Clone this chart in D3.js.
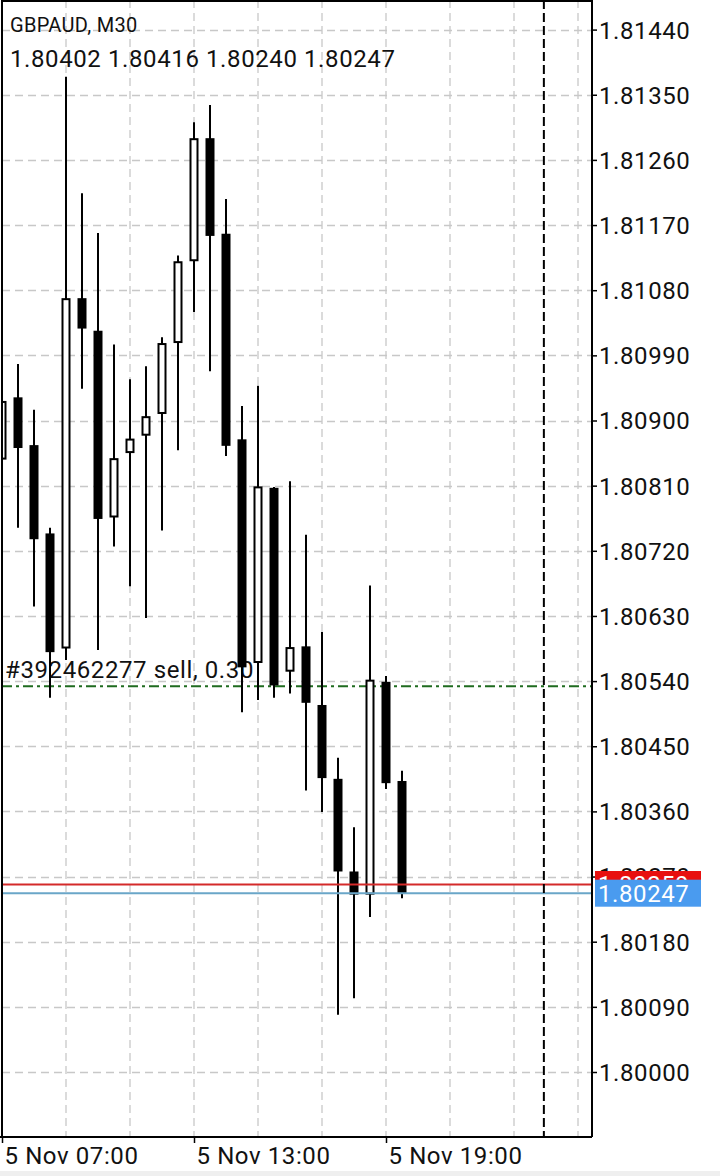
<!DOCTYPE html>
<html><head><meta charset="utf-8">
<script src="https://cdn.jsdelivr.net/npm/d3@7"></script>
<style>html,body{margin:0;padding:0;background:#fff;} svg{display:block;font-family:Roboto, "Noto Sans", sans-serif;}</style>
</head><body><svg id="c" width="720" height="1176"></svg>
<script>
const symbolLabel = "GBPAUD, M30";
const day = "2024-11-05";
const times = ["07:00","07:30","08:00","08:30","09:00","09:30","10:00","10:30","11:00","11:30",
  "12:00","12:30","13:00","13:30","14:00","14:30","15:00","15:30","16:00","16:30",
  "17:00","17:30","18:00","18:30","19:00","19:30"];
const opens  = [1.80846,1.80932,1.80866,1.80744,1.80585,1.81069,1.81024,1.80766,1.80855,1.80879,
  1.80909,1.81007,1.81120,1.81290,1.81158,1.80874,1.80565,1.80807,1.80553,1.80588,
  1.80507,1.80405,1.80277,1.80245,1.80539,1.80402];
const highs  = [1.80988,1.80978,1.80915,1.80752,1.81375,1.81214,1.81159,1.81005,1.80957,1.80975,
  1.81015,1.81128,1.81312,1.81336,1.81206,1.80920,1.80948,1.80808,1.80816,1.80742,
  1.80608,1.80434,1.80338,1.80672,1.80547,1.80416];
const lows   = [1.80812,1.80752,1.80643,1.80517,1.80569,1.80944,1.80583,1.80726,1.80671,1.80627,
  1.80748,1.80859,1.81050,1.80968,1.80851,1.80497,1.80514,1.80517,1.80523,1.80389,
  1.80359,1.80079,1.80102,1.80214,1.80391,1.80240];
const closes = [1.80927,1.80862,1.80736,1.80580,1.81069,1.81027,1.80764,1.80848,1.80875,1.80906,
  1.81007,1.81120,1.81290,1.81155,1.80865,1.80559,1.80809,1.80534,1.80587,1.80510,
  1.80406,1.80277,1.80245,1.80542,1.80399,1.80247];
const yTickValues = [1.80000,1.80090,1.80180,1.80270,1.80360,1.80450,1.80540,1.80630,1.80720,
  1.80810,1.80900,1.80990,1.81080,1.81170,1.81260,1.81350,1.81440];
const xTickTimes = ["2024-11-05 07:00","2024-11-05 13:00","2024-11-05 19:00"];
const domainTimes = ["2024-11-05 07:00","2024-11-06 01:30"];
const separatorTime = "2024-11-05 23:56";
const bidPrice = 1.80247;
const askPrice = 1.80259;
const orderPrice = 1.80533;
const orderLabel = "#392462277 sell, 0.30";

const parse = d3.utcParse("%Y-%m-%d %H:%M");
const fmtX = d3.utcFormat("%-d %b %H:%M");
const fmtP = d3.format(".5f");

const svg = d3.select("#c");
const L = 2, R = 592, T = 0, B = 1137;
const LS = "0.6px";

const x = d3.scaleUtc().domain(domainTimes.map(parse)).range([2, 594]);
const y = d3.scaleLinear().domain([1.80000, 1.81440]).range([1072, 29.6]);

const data = times.map((t,i)=>({t:parse(day+" "+t), o:opens[i], h:highs[i], l:lows[i], c:closes[i]}));

svg.append("rect").attr("width",720).attr("height",1176).attr("fill","#fff");
svg.append("rect").attr("x",0).attr("y",1171).attr("width",720).attr("height",5).attr("fill","#efefef");

svg.append("defs").append("clipPath").attr("id","plot").append("rect")
  .attr("x",L).attr("y",T).attr("width",R-L).attr("height",B-T);

// grid
const grid = svg.append("g").attr("clip-path","url(#plot)");
grid.selectAll(".hg").data(yTickValues).join("line")
  .attr("x1",L).attr("x2",R).attr("y1",d=>Math.round(y(d))+0.5).attr("y2",d=>Math.round(y(d))+0.5)
  .attr("stroke","#c8c8c8").attr("stroke-width",1.3).attr("stroke-dasharray","8,5");
const vTimes = d3.utcHour.range(parse(domainTimes[0]), parse(domainTimes[1]), 2);
grid.selectAll(".vg").data(vTimes).join("line")
  .attr("x1",d=>x(d)).attr("x2",d=>x(d)).attr("y1",T).attr("y2",B)
  .attr("stroke","#c8c8c8").attr("stroke-width",1.3).attr("stroke-dasharray","8,5");

// order line
svg.append("line").attr("x1",L).attr("x2",R).attr("y1",y(orderPrice)).attr("y2",y(orderPrice))
  .attr("stroke","#1f6b1f").attr("stroke-width",2).attr("stroke-dasharray","10,4,3,4");
svg.append("text").attr("x",5).attr("y",y(orderPrice)-8).attr("font-size",24).attr("letter-spacing",LS).attr("fill","#111")
  .text(orderLabel);

// candles
const cg = svg.append("g").attr("clip-path","url(#plot)");
const bw = 9;
cg.selectAll(".wick").data(data).join("line")
  .attr("x1",d=>x(d.t)).attr("x2",d=>x(d.t)).attr("y1",d=>y(d.h)).attr("y2",d=>y(d.l))
  .attr("stroke","#000").attr("stroke-width",2);
cg.selectAll(".body").data(data).join("rect")
  .attr("x",d=> d.c>=d.o ? x(d.t)-bw/2+1 : x(d.t)-bw/2)
  .attr("width",d=> d.c>=d.o ? bw-2 : bw)
  .attr("y",d=> d.c>=d.o ? y(d.c)+1 : y(d.o))
  .attr("height",d=> d.c>=d.o ? Math.max(1,y(d.o)-y(d.c)-2) : Math.max(1,y(d.c)-y(d.o)))
  .attr("fill",d=> d.c>=d.o ? "#fff" : "#000")
  .attr("stroke",d=> d.c>=d.o ? "#000" : "none")
  .attr("stroke-width",2);

// ask / bid lines
svg.append("line").attr("x1",L).attr("x2",R).attr("y1",y(askPrice)).attr("y2",y(askPrice))
  .attr("stroke","#d42a2a").attr("stroke-width",2);
svg.append("line").attr("x1",L).attr("x2",R).attr("y1",y(bidPrice)).attr("y2",y(bidPrice))
  .attr("stroke","#6aa6c8").attr("stroke-width",2);

// separator
svg.append("line").attr("x1",x(parse(separatorTime))).attr("x2",x(parse(separatorTime)))
  .attr("y1",T).attr("y2",B).attr("stroke","#000").attr("stroke-width",2).attr("stroke-dasharray","9,4");

// frame
svg.append("line").attr("x1",L).attr("x2",L).attr("y1",T).attr("y2",B).attr("stroke","#000").attr("stroke-width",2);
svg.append("line").attr("x1",L).attr("x2",R).attr("y1",T+1).attr("y2",T+1).attr("stroke","#000").attr("stroke-width",2);

// right axis
const yAxis = d3.axisRight(y).tickValues(yTickValues).tickFormat(fmtP).tickSize(5).tickPadding(2);
const ya = svg.append("g").attr("transform",`translate(${R},0)`).call(yAxis);
ya.select(".domain").attr("d",`M0,${T}V${B}`).attr("stroke","#000").attr("stroke-width",2);
ya.selectAll(".tick line").attr("stroke","#000").attr("stroke-width",1.5);
ya.selectAll(".tick text").attr("font-size",24).attr("letter-spacing",LS).attr("font-family","Roboto").attr("fill","#111").attr("dy","0.35em");

// bottom axis
const xAxis = d3.axisBottom(x).tickValues(xTickTimes.map(parse)).tickFormat(fmtX).tickSize(6).tickPadding(4);
const xa = svg.append("g").attr("transform",`translate(0,${B})`).call(xAxis);
xa.select(".domain").attr("d",`M0,0H${R}`).attr("stroke","#000").attr("stroke-width",2);
xa.selectAll(".tick line").attr("stroke","#000").attr("stroke-width",1.5);
xa.selectAll(".tick text").attr("font-size",24).attr("letter-spacing",LS).attr("font-family","Roboto").attr("fill","#111")
  .attr("text-anchor","start").attr("x",2).attr("dy","0.71em");

// price labels
function priceTag(p, bg){
  const g = svg.append("g");
  g.append("rect").attr("x",595).attr("y",y(p)-13.5).attr("width",106).attr("height",27).attr("fill",bg);
  g.append("text").attr("x",598).attr("y",y(p)).attr("dy","0.35em").attr("font-size",24).attr("letter-spacing",LS).attr("fill","#fff").text(fmtP(p));
}
priceTag(askPrice, "#e8100f");
priceTag(bidPrice, "#4a9bef");

// header
svg.append("text").attr("x",10).attr("y",32).attr("font-size",20).attr("letter-spacing","0.3px").attr("fill","#111").text(symbolLabel);
const last = data[data.length-1];
svg.append("text").attr("x",10).attr("y",67).attr("font-size",24).attr("letter-spacing",LS).attr("fill","#111")
  .text([last.o,last.h,last.l,last.c].map(fmtP).join(" "));
</script></body></html>
